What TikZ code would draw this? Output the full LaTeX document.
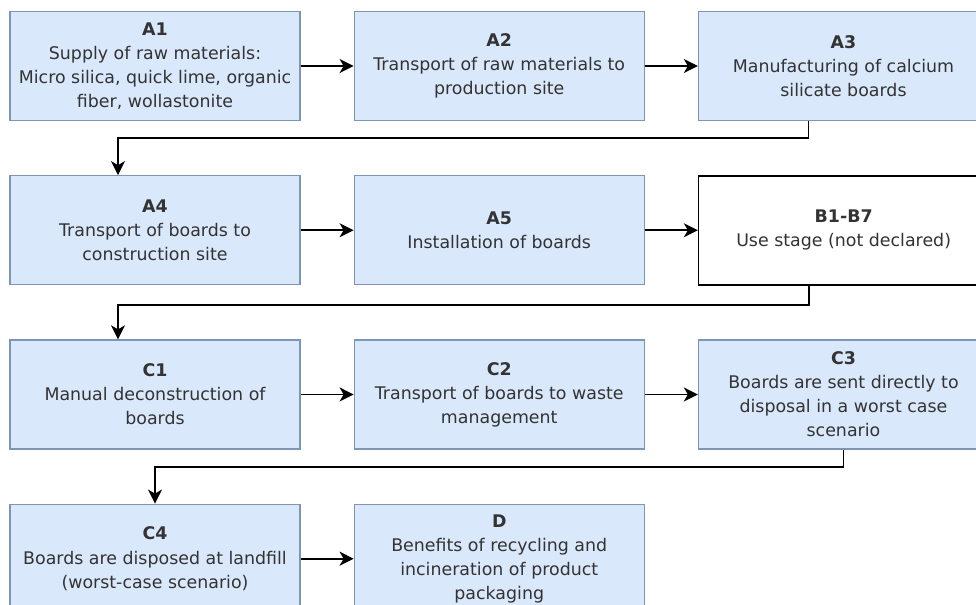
\documentclass[tikz,border=0pt]{standalone}
\usepackage{fontspec}
\setmainfont{DejaVu Sans}
\usetikzlibrary{arrows.meta}
\usetikzlibrary{positioning}

\definecolor{boxfill}{HTML}{DAE8FC}
\definecolor{boxline}{HTML}{7F95B5}
\definecolor{txt}{HTML}{333333}

\tikzset{
  stage/.style={draw=boxline, fill=boxfill, line width=0.7pt, minimum width=5.8cm,
    minimum height=2.18cm, inner sep=0pt, align=center, text=txt,
    font=\fontsize{9.9}{13.7}\selectfont},
  usestage/.style={stage, draw=black, fill=white, line width=0.9pt},
  flow/.style={-{Stealth[length=2.8mm,width=2.8mm,inset=0.8mm]}, line width=1.1pt, black},
}

\begin{document}
\begin{tikzpicture}[node distance=1.08cm and 1.06cm]
  % page frame (boxes on the right and at the bottom run off the edge)
  \useasboundingbox (0,0) rectangle (19.52,-12.08);
  \clip (0,0) rectangle (19.52,-12.08);
  \fill[white] (0,0) rectangle (19.52,-12.08);

  % product stage
  \node[stage] (a1) at (3.10,-1.32) {\textbf{A1}\\Supply of raw materials:\\Micro silica, quick lime, organic\\fiber, wollastonite};
  \node[stage, right=of a1] (a2) {\textbf{A2}\\Transport of raw materials to\\production site};
  \node[stage, right=of a2] (a3) {\textbf{A3}\\Manufacturing of calcium\\silicate boards};

  % construction and use
  \node[stage, below=of a1] (a4) {\textbf{A4}\\Transport of boards to\\construction site};
  \node[stage, right=of a4] (a5) {\textbf{A5}\\Installation of boards};
  \node[usestage, right=of a5] (b17) {\textbf{B1-B7}\\Use stage (not declared)};

  % end of life
  \node[stage, below=of a4] (c1) {\textbf{C1}\\Manual deconstruction of\\boards};
  \node[stage, right=of c1] (c2) {\textbf{C2}\\Transport of boards to waste\\management};
  \node[stage, right=of c2] (c3) {\textbf{C3}\\Boards are sent directly to\\disposal in a worst case\\scenario};

  \node[stage, below=of c1] (c4) {\textbf{C4}\\Boards are disposed at landfill\\(worst-case scenario)};
  \node[stage, right=of c4] (d) {\textbf{D}\\Benefits of recycling and\\incineration of product\\packaging};

  % straight arrows
  \draw[flow] (a1) -- (a2);
  \draw[flow] (a2) -- (a3);
  \draw[flow] (a4) -- (a5);
  \draw[flow] (a5) -- (b17);
  \draw[flow] (c1) -- (c2);
  \draw[flow] (c2) -- (c3);
  \draw[flow] (c4) -- (d);

  % elbow arrows down to the next row
  \draw[flow] ([xshift=-0.7cm]a3.south) -- ++(0,-0.33) -| ([xshift=-0.74cm]a4.north);
  \draw[flow] ([xshift=-0.7cm]b17.south) -- ++(0,-0.38) -| ([xshift=-0.74cm]c1.north);
  \draw[flow] (c3.south) -- ++(0,-0.34) -| (c4.north);
\end{tikzpicture}
\end{document}
